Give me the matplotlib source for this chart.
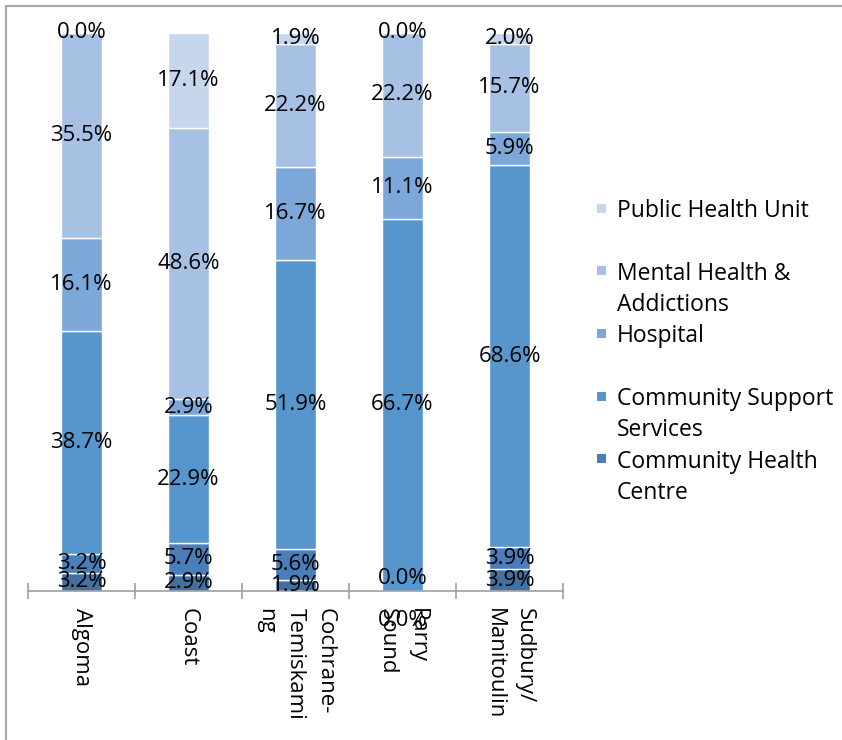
import matplotlib
matplotlib.use("Agg")
import matplotlib.pyplot as plt
from matplotlib.patches import Rectangle
from matplotlib.lines import Line2D
import numpy as np

plt.rcParams['font.family'] = ['Open Sans', 'DejaVu Sans']

categories = ["Algoma", "Coast", "Cochrane-\nTemiskami\nng", "Parry\nSound", "Sudbury/\nManitoulin"]

# series bottom -> top
series_names = ["CCAC", "Community Health\nCentre", "Community Support\nServices", "Hospital",
                "Mental Health &\nAddictions", "Public Health Unit"]
s_ccac = [3.2, 2.9, 1.9, 0.0, 3.9]
s_chc = [3.2, 5.7, 5.6, 0.0, 3.9]
s_css = [38.7, 22.9, 51.9, 66.7, 68.6]
s_hosp = [16.1, 2.9, 16.7, 11.1, 5.9]
s_mha = [35.5, 48.6, 22.2, 22.2, 15.7]
s_phu = [0.0, 17.1, 1.9, 0.0, 2.0]
series = [s_ccac, s_chc, s_css, s_hosp, s_mha, s_phu]
colors = ["#42709f", "#4a7ebb", "#5796cd", "#7ba7d9", "#a6c1e4", "#c5d6ed"]
legend_shown = [False, True, True, True, True, True]

W, H = 842, 740
fig = plt.figure(figsize=(W / 100, H / 100), dpi=100)

ax_l, ax_r, ax_b, ax_t = 28, 563, 591, 33
ax = fig.add_axes([ax_l / W, 1 - ax_b / H, (ax_r - ax_l) / W, (ax_b - ax_t) / H])

data = np.array(series, dtype=float)
totals = data.sum(axis=0)
frac = data / totals
x = np.arange(len(categories)) + 0.5
bottom = np.zeros(len(categories))
fs = 16
for i, (vals, fr, col) in enumerate(zip(data, frac, colors)):
    ax.bar(x, fr, bottom=bottom, width=0.39, color=col, edgecolor='white', linewidth=1.0)
    for j in range(len(categories)):
        yc = bottom[j] + fr[j] / 2
        off = 0
        if vals[j] == 0 and bottom[j] == 0:
            off = -29 if i == 0 else 13
        ax.annotate(f"{vals[j]:.1f}%", (x[j], yc), xytext=(0, off * 0.72),
                    textcoords='offset points', ha='center', va='center',
                    fontsize=fs, color='black', annotation_clip=False)
    bottom += fr

ax.set_xlim(0, len(categories))
ax.set_ylim(0, 1)
for s in ['top', 'right', 'left']:
    ax.spines[s].set_visible(False)
ax.spines['bottom'].set_color('#a0a0a0')
ax.spines['bottom'].set_linewidth(1.2)
ax.set_yticks([])
ax.set_xticks(np.arange(len(categories) + 1))
ax.set_xticklabels([])
ax.tick_params(axis='x', which='major', direction='inout', length=11, color='#a0a0a0', width=1.2)
ax.set_xticks(x, minor=True)
ax.set_xticklabels(categories, minor=True)
ax.tick_params(axis='x', which='minor', length=0, pad=12)
for t in ax.get_xticklabels(minor=True):
    t.set_rotation(-90)
    t.set_ha('center')
    t.set_va('top')
    t.set_multialignment('left')
    t.set_fontsize(fs)
    t.set_linespacing(1.55)

# legend (top entry first), each wrapped line drawn on its own
leg_x_sq, leg_x_txt = 597, 617
leg_y0, leg_step, line_step = 208, 62.7, 31
k = 0
for name, col, show in list(zip(series_names, colors, legend_shown))[::-1]:
    if not show:
        continue
    yc = leg_y0 + k * leg_step
    fig.patches.append(Rectangle((leg_x_sq / W, 1 - (yc + 4.5) / H), 9 / W, 9 / H,
                                 transform=fig.transFigure, facecolor=col, edgecolor='none'))
    for li, line in enumerate(name.split("\n")):
        fig.text(leg_x_txt / W, 1 - (yc + li * line_step) / H, line, ha='left',
                 va='center_baseline', fontsize=16.5)
    k += 1

# chart area border (partially visible)
fig.add_artist(Line2D([6 / W, 6 / W], [0, 1 - 6 / H], transform=fig.transFigure,
                      color='#a6a6a6', lw=1.5))
fig.add_artist(Line2D([6 / W, 1], [1 - 6 / H, 1 - 6 / H], transform=fig.transFigure,
                      color='#a6a6a6', lw=1.5))

fig.savefig("out.png", dpi=100)
